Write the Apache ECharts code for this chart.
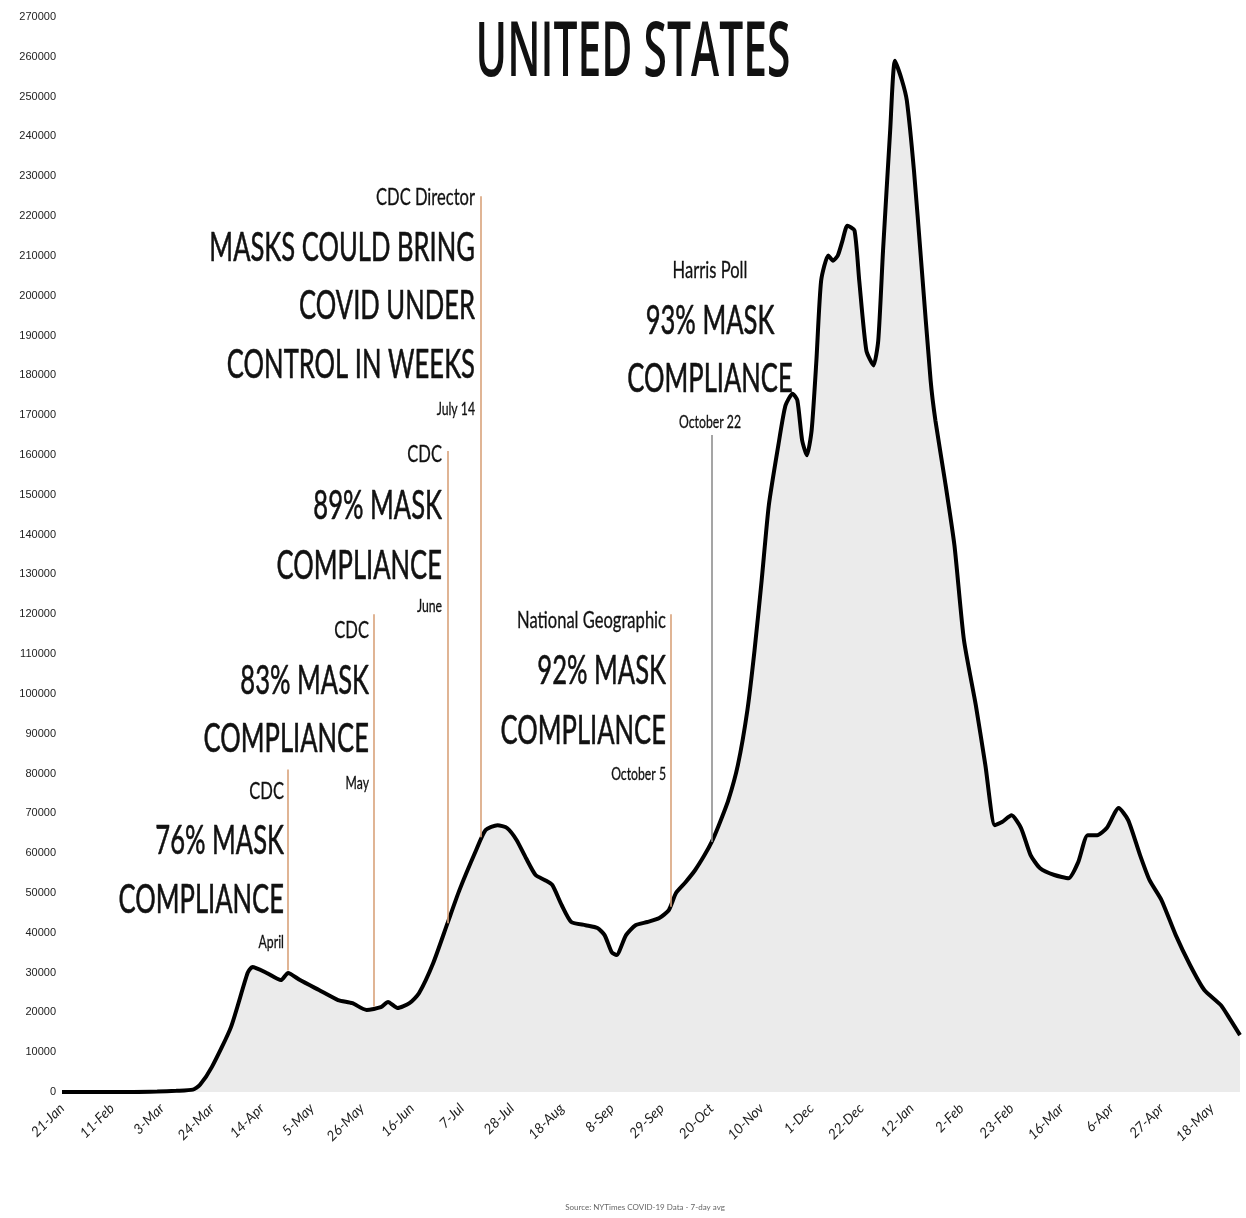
<!DOCTYPE html>
<html>
<head>
<meta charset="utf-8">
<script src="https://cdn.jsdelivr.net/npm/echarts@6/dist/echarts.min.js"></script>
<style>
  html, body { margin: 0; padding: 0; background: #ffffff; }
  #chart { width: 1246px; height: 1218px; }
</style>
</head>
<body>
<div id="chart"></div>
<script>
// ---------- DATA ----------
// days since 21-Jan-2020
const days = [0, 10, 20, 30, 40, 48, 55, 58, 63, 71, 78, 80, 86, 92, 95, 100, 108, 116, 122, 128, 134, 137, 141, 146, 150, 156, 162, 167,
  174, 178, 183, 187, 191, 195, 199, 203, 206, 210, 214, 220, 225, 228, 231, 233, 237, 241, 246, 251, 255, 258, 262, 266, 270, 273,
  276, 280, 284, 288, 291, 294, 297, 301, 304, 307, 309, 311, 313, 315, 317, 319, 322, 324, 326, 328, 330, 333, 335, 338, 341, 343,
  345, 348, 350, 353, 355, 358, 361, 365, 367, 371, 375, 379, 384, 388, 392, 395, 399, 403, 407, 411, 417, 423, 427, 431, 435, 439,
  444, 448, 453, 457, 462, 468, 474, 480, 487, 491, 495];
const cases = [0, 0, 0, 0, 100, 300, 600, 1800, 6300, 16300, 29900, 31400, 29900, 28100, 29900, 28100, 25600, 23100, 22300, 20600, 21300, 22600, 21100, 22300, 24800, 32400, 42400, 50700,
  60700, 65800, 67000, 66300, 63300, 58700, 54500, 53200, 52000, 46900, 42700, 41900, 41200, 39400, 35100, 34400, 39400, 41900, 42700, 43700, 45700, 50000, 52700, 55700, 59500, 62800,
  67000, 73300, 82100, 95900, 110900, 128500, 147300, 162400, 172400, 175400, 173700, 163700, 159900, 166200, 183700, 203800, 210100, 208800, 210100, 213900, 217600, 216400, 203800, 186200, 182500, 188800,
  211300, 241500, 259000, 254000, 249000, 231400, 208800, 178700, 168700, 153600, 137300, 113500, 97100, 82100, 67000, 67800, 69500, 66300, 59500, 56200, 54500, 53700, 57700, 64500, 64500, 66300,
  71300, 68300, 59500, 53200, 48200, 39400, 31900, 25600, 21800, 18100, 14300];

// annotation vertical lines (day, top value, bottom value)
const annotDays   = [95, 131, 162, 176, 256, 273];
const annotTop    = [81000, 120000, 161000, 225000, 120000, 165000];
const annotBottom = [30500, 21500, 42400, 64000, 46500, 62800];

const monthNames = ['Jan','Feb','Mar','Apr','May','Jun','Jul','Aug','Sep','Oct','Nov','Dec'];
const titleText = 'UNITED STATES';
const sourceText = 'Source: NYTimes COVID-19 Data - 7-day avg';

// annotation texts: [small header, big line(s)..., date]
const annotTexts = [
  ['CDC', '76% MASK', 'COMPLIANCE', 'April'],
  ['CDC', '83% MASK', 'COMPLIANCE', 'May'],
  ['CDC', '89% MASK', 'COMPLIANCE', 'June'],
  ['CDC Director', 'MASKS COULD BRING', 'COVID UNDER', 'CONTROL IN WEEKS', 'July 14'],
  ['National Geographic', '92% MASK', 'COMPLIANCE', 'October 5'],
  ['Harris Poll', '93% MASK', 'COMPLIANCE', 'October 22']
];

// ---------- LAYOUT ----------
const seriesData = days.map((d, i) => [d, cases[i]]);
const base = Date.UTC(2020, 0, 21);
function dayLabel(d) {
  if (d % 21 !== 0) return '';
  const dt = new Date(base + d * 86400000);
  return dt.getUTCDate() + '-' + monthNames[dt.getUTCMonth()];
}

const blockLayout = [
  { x: 284, align: 'right', ys: [792, 841, 900, 943] },
  { x: 369, align: 'right', ys: [631, 681, 739, 784] },
  { x: 442, align: 'right', ys: [455, 506, 566, 607] },
  { x: 475, align: 'right', ys: [198, 248, 306, 365, 410] },
  { x: 666, align: 'right', ys: [621, 671, 731, 775] },
  { x: 710, align: 'center', ys: [271, 321, 379, 423] }
];
const FONT = 'Lato, "Noto Sans", sans-serif';
const graphics = [];
annotTexts.forEach((lines, bi) => {
  const L = blockLayout[bi];
  lines.forEach((t, li) => {
    const first = li === 0, last = li === lines.length - 1;
    const size = first ? 23 : (last ? 17 : 40);
    graphics.push({
      type: 'text', x: L.x, y: L.ys[li], scaleX: first || last ? 0.72 : 0.64, z: 10,
      style: { text: t, fontSize: size, fontFamily: FONT, fontWeight: 'normal', fill: '#111',
        stroke: '#111', lineWidth: first || last ? 0.3 : 0.6,
        align: L.align, verticalAlign: 'middle' }
    });
  });
});
graphics.push({
  type: 'text', x: 633, y: 54, scaleX: 0.56, z: 10,
  style: { text: titleText, fontSize: 76, fontFamily: '"Open Sans", sans-serif', fontWeight: 600,
    fill: '#111', align: 'center', verticalAlign: 'middle' }
});
graphics.push({
  type: 'text', x: 645, y: 1207, z: 10,
  style: { text: sourceText, fontSize: 8, fontFamily: 'Lato, sans-serif', fill: '#666',
    align: 'center', verticalAlign: 'middle' }
});

const markLines = annotDays.map((d, i) => [
  { coord: [d, annotTop[i]], lineStyle: { color: i === 5 ? '#8f8f8f' : '#d9a27a', width: 1.6, type: 'solid' } },
  { coord: [d, annotBottom[i]] }
]);

const chart = echarts.init(document.getElementById('chart'));
chart.setOption({
  animation: false,
  backgroundColor: '#ffffff',
  grid: { left: 62, right: 6, top: 17, bottom: 126, containLabel: false },
  xAxis: {
    type: 'value', min: 0, max: 495, interval: 21,
    axisLine: { show: false }, axisTick: { show: false }, splitLine: { show: false },
    axisLabel: {
      rotate: 45, fontSize: 14, color: '#222', margin: 14, showMaxLabel: false,
      fontFamily: 'Lato, sans-serif', fontStyle: 'italic',
      formatter: v => dayLabel(v)
    }
  },
  yAxis: {
    type: 'value', min: 0, max: 270000, interval: 10000,
    axisLine: { show: false }, axisTick: { show: false }, splitLine: { show: false },
    axisLabel: { fontSize: 11, color: '#222', margin: 6, fontFamily: '"Liberation Sans", sans-serif',
      formatter: v => String(v) }
  },
  graphic: graphics,
  series: [{
    type: 'line', data: seriesData, showSymbol: false, smooth: 0.2,
    lineStyle: { color: '#000', width: 4 },
    areaStyle: { color: '#ebebeb', opacity: 1 },
    markLine: { symbol: 'none', silent: true, label: { show: false }, data: markLines }
  }]
});
</script>
</body>
</html>
